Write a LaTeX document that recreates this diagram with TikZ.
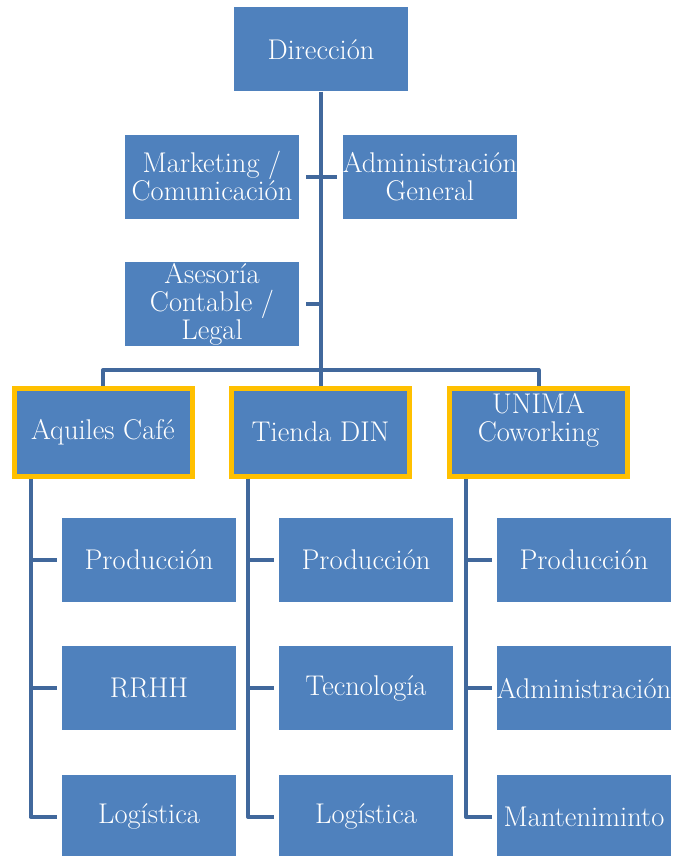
\documentclass[tikz,border=0pt]{standalone}
\usepackage{tikz}
\usetikzlibrary{positioning}
\definecolor{boxblue}{HTML}{4F81BD}
\definecolor{lineblue}{HTML}{41689C}
\definecolor{unityellow}{HTML}{FFC000}
\tikzstyle{block} = [rectangle, fill=boxblue, text=white, minimum width=174pt, minimum height=84pt, inner sep=0pt, align=center, font=\fontsize{28.5}{28}\selectfont]
\tikzstyle{unit} = [block, draw=unityellow, line width=5pt, minimum width=178pt, minimum height=88pt]
\tikzstyle{link} = [draw=lineblue, line width=4pt, line join=round]

\begin{document}
\begin{tikzpicture}[x=1pt, y=-1pt]
	\useasboundingbox (0,0) rectangle (673,856);
	% management
	\node (Direccion) [block] at (321,49.5) {Dirección};
	\node (Marketing) [block] at (212,176.5) {Marketing /\\Comunicación};
	\node (Administracion) [block] at (430,176.5) {Administración\\General};
	\node (Asesoria) [block] at (212,304) {Asesoría\\Contable /\\Legal};
	% business units
	\node (Aquiles) [unit] at (103,432) {Aquiles Café};
	\node (Tienda) [unit] at (320.5,432) {Tienda DIN};
	\node (Unima) [unit] at (538.5,432) {UNIMA\\Coworking\\[-8pt]\strut};
	% departments of each unit
	\node (ProdA) [block] at (149,560) {Producción};
	\node (RrhhA) [block, below = 44pt of ProdA] {RRHH};
	\node (LogA) [block, below = 44pt of RrhhA] {Logística};
	\node (ProdT) [block] at (366,560) {Producción};
	\node (TecT) [block, below = 44pt of ProdT] {Tecnología};
	\node (LogT) [block, below = 44pt of TecT] {Logística};
	\node (ProdU) [block] at (584,560) {Producción};
	\node (AdmU) [block, below = 44pt of ProdU] {Administración};
	\node (MantU) [block, below = 44pt of AdmU] {Manteniminto};
	% trunk and bus
	\coordinate (Bus) at (321,370);
	\draw [link] (Direccion.south -| Bus) -- (Tienda.north -| Bus);
	\draw [link] (Aquiles.north) |- (Bus) -| (Unima.north);
	\draw [link] ([xshift=7pt]Marketing.east) -- ([xshift=-6pt]Administracion.west);
	\draw [link] ([xshift=7pt]Asesoria.east) -- (Asesoria.east -| Bus);
	% department branches
	\draw [link] ([xshift=19pt]Aquiles.south west) |- ([xshift=-5pt]LogA.west);
	\draw [link] ([xshift=19pt]Aquiles.south west |- ProdA.west) -- ([xshift=-5pt]ProdA.west);
	\draw [link] ([xshift=19pt]Aquiles.south west |- RrhhA.west) -- ([xshift=-5pt]RrhhA.west);
	\draw [link] ([xshift=19pt]Tienda.south west) |- ([xshift=-5pt]LogT.west);
	\draw [link] ([xshift=19pt]Tienda.south west |- ProdT.west) -- ([xshift=-5pt]ProdT.west);
	\draw [link] ([xshift=19pt]Tienda.south west |- TecT.west) -- ([xshift=-5pt]TecT.west);
	\draw [link] ([xshift=19pt]Unima.south west) |- ([xshift=-5pt]MantU.west);
	\draw [link] ([xshift=19pt]Unima.south west |- ProdU.west) -- ([xshift=-5pt]ProdU.west);
	\draw [link] ([xshift=19pt]Unima.south west |- AdmU.west) -- ([xshift=-5pt]AdmU.west);
\end{tikzpicture}
\end{document}
